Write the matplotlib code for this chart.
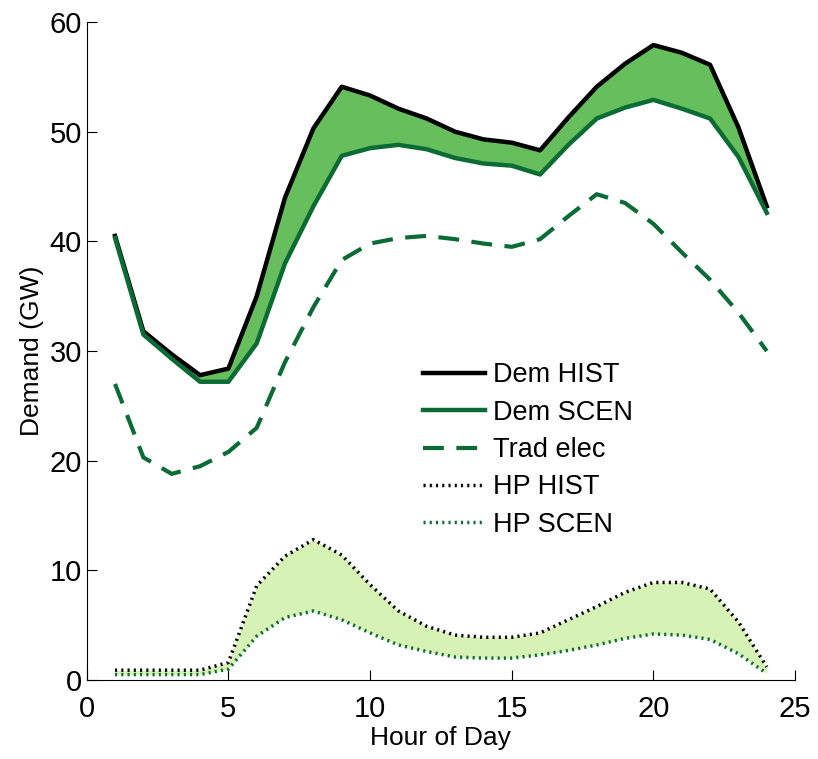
import numpy as np
import matplotlib
matplotlib.use("Agg")
from matplotlib import pyplot as plt

hours = list(range(1, 25))

dem_hist = [40.5, 31.8, 29.7, 27.8, 28.4, 35.0, 44.0, 50.3, 54.1, 53.3, 52.1, 51.2,
            50.0, 49.3, 49.0, 48.3, 51.3, 54.1, 56.2, 57.9, 57.2, 56.1, 50.4, 43.2]
dem_scen = [40.3, 31.5, 29.3, 27.2, 27.2, 30.7, 38.0, 43.2, 47.8, 48.5, 48.8, 48.4,
            47.6, 47.1, 46.9, 46.1, 48.8, 51.2, 52.2, 52.9, 52.1, 51.2, 47.7, 42.6]
trad_elec = [27.0, 20.3, 18.8, 19.5, 20.8, 23.0, 29.0, 34.0, 38.3, 39.8, 40.3, 40.5,
             40.2, 39.8, 39.5, 40.2, 42.3, 44.3, 43.5, 41.6, 39.0, 36.5, 33.5, 30.0]
hp_hist = [0.9, 0.9, 0.9, 0.9, 1.6, 8.6, 11.3, 12.8, 11.4, 8.7, 6.3, 4.9,
           4.1, 3.9, 3.9, 4.3, 5.5, 6.7, 8.0, 8.9, 8.9, 8.3, 5.3, 1.2]
hp_scen = [0.5, 0.5, 0.5, 0.5, 1.0, 4.0, 5.7, 6.3, 5.5, 4.3, 3.2, 2.6,
           2.1, 2.0, 2.0, 2.3, 2.7, 3.2, 3.8, 4.2, 4.1, 3.7, 2.4, 0.6]

dark_green = "#0b6b34"
plt.rcParams['font.family'] = ['Liberation Sans', 'DejaVu Sans']

fig = plt.figure(figsize=(8.18, 7.59), dpi=100)
ax = fig.add_axes([0.106, 0.104, 0.866, 0.867])

# shaded bands
ax.fill_between(hours, dem_scen, dem_hist, color="#66bf5c", lw=0)
ax.fill_between(hours, hp_scen, hp_hist, color="#d6f2b4", lw=0)

ax.plot(hours, dem_hist, color="black", lw=3.2, label="Dem HIST")
ax.plot(hours, dem_scen, color=dark_green, lw=3.2, label="Dem SCEN")
ax.plot(hours, trad_elec, color=dark_green, lw=3, ls=(0, (5, 3)), label="Trad elec")
ax.plot(hours, hp_hist, color="black", lw=2.5, ls=(0, (0.6, 1.2)), label="HP HIST")
ax.plot(hours, hp_scen, color=dark_green, lw=2.5, ls=(0, (0.6, 1.2)), label="HP SCEN")

ax.set_xlim(0, 25)
ax.set_ylim(0, 60)
ax.set_xticks([0, 5, 10, 15, 20, 25])
ax.set_yticks([0, 10, 20, 30, 40, 50, 60])
ax.tick_params(direction="in", labelsize=21, length=7)
ax.tick_params(axis="x", pad=11)
ax.spines["top"].set_visible(False)
ax.spines["right"].set_visible(False)
ax.set_xlabel("Hour of Day", fontsize=19, labelpad=2)
ax.set_ylabel("Demand (GW)", fontsize=19, labelpad=4)

ax.legend(loc="upper left", bbox_to_anchor=(0.44, 0.52), frameon=False,
          fontsize=19.5, handlelength=2.3, labelspacing=0.42, handletextpad=0.3)

plt.savefig("out.png", dpi=100)
